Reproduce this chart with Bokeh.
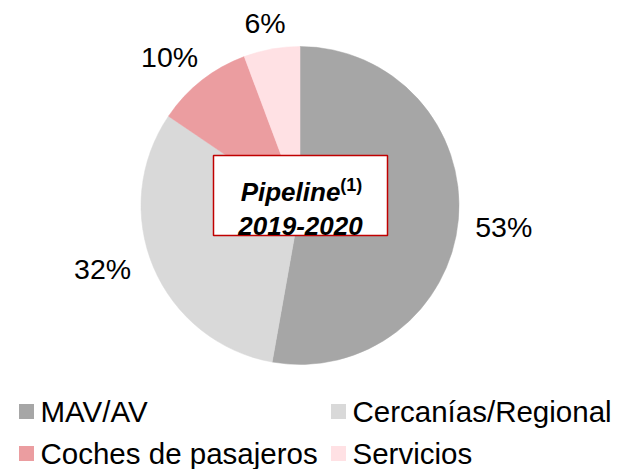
import numpy as np
from bokeh.plotting import figure
from bokeh.models import Range1d
from bokeh.core.properties import value
from bokeh.embed import file_html
from bokeh.resources import INLINE

# ---- data ----
categories = ["MAV/AV", "Cercanías/Regional", "Coches de pasajeros", "Servicios"]
shares = [52.8, 31.7, 9.8, 5.7]
labels = ["53%", "32%", "10%", "6%"]
colors = ["#A6A6A6", "#D9D9D9", "#EB9DA0", "#FFE1E4"]
title_main = "Pipeline"
title_sup = "(1)"
title_period = "2019-2020"

# ---- layout ----
W, H = 617, 469
FONT = "Liberation Sans"


def yd(yimg):
    return H - yimg


p = figure(width=W, height=H, output_backend="svg", toolbar_location=None,
           x_range=Range1d(0, W), y_range=Range1d(0, H),
           min_border=0, outline_line_color=None)
p.axis.visible = False
p.grid.visible = False
p.background_fill_color = "white"
p.border_fill_color = "white"

# pie
cx, cy, R = 299.5, yd(205), 159
vals = np.array(shares, dtype=float)
frac = vals / vals.sum()
cum = np.cumsum(frac)
prev = np.concatenate([[0.0], cum[:-1]])
start = np.pi / 2 - 2 * np.pi * prev
end = np.pi / 2 - 2 * np.pi * cum
p.wedge(x=cx, y=cy, radius=R, start_angle=list(start), end_angle=list(end),
        direction="clock", fill_color=colors, line_color=colors, line_width=0.5)

# percentage labels, outside end (small layout nudges in screen px: right, down)
lab_fs = 28.5
mid = (start + end) / 2
ux, uy = np.cos(mid), np.sin(mid)
widths = np.array([(0.556 * (len(t) - 1) + 0.889) * lab_fs for t in labels])
nudge_dx = np.array([0, -9, -4, 0])
nudge_dy = np.array([5, -9, -2, 1])
Rl = R + 17
lx = cx + Rl * ux + widths / 2 * ux + nudge_dx
ly = cy + Rl * uy + 10 * uy - nudge_dy
p.text(x=list(lx), y=list(ly), text=labels, text_align="center",
       text_baseline="middle", text_font=value(FONT),
       text_font_size=f"{lab_fs}px", text_color="black")

# centre box
bx, by = 300, yd(195)
p.rect(x=bx, y=by, width=174, height=80, fill_color="white",
       line_color="#C00000", line_width=1.5)
fs_main, fs_sup = 26, 18
w1 = 3.835 * fs_main
w2 = 1.222 * fs_sup
x0 = bx - (w1 + w2) / 2 + 1
p.text(x=[x0], y=[yd(191)], text=[title_main], text_align="left",
       text_baseline="alphabetic", text_font=value(FONT),
       text_font_style="bold italic", text_font_size=f"{fs_main}px",
       text_color="black")
p.text(x=[x0 + w1], y=[yd(184)], text=[title_sup], text_align="left",
       text_baseline="alphabetic", text_font=value(FONT),
       text_font_style="bold", text_font_size=f"{fs_sup}px",
       text_color="black")
p.text(x=[bx], y=[yd(225)], text=[title_period], text_align="center",
       text_baseline="alphabetic", text_font=value(FONT),
       text_font_style="bold italic", text_font_size=f"{fs_main}px",
       text_color="black")

# legend (2 columns)
col_sq = [26, 338]
col_tx = [40, 352]
row_y = [yd(411), yd(453)]
sq_x = [col_sq[i % 2] for i in range(len(categories))]
tx_x = [col_tx[i % 2] for i in range(len(categories))]
it_y = [row_y[i // 2] for i in range(len(categories))]
p.rect(x=sq_x, y=it_y, width=15, height=15, width_units="screen",
       height_units="screen", fill_color=colors, line_color=None)
p.text(x=tx_x, y=it_y, text=categories, text_align="left",
       text_baseline="middle", text_font=value(FONT),
       text_font_size="29.5px", text_color="black")

open("out.html", "w").write(file_html(p, INLINE))
